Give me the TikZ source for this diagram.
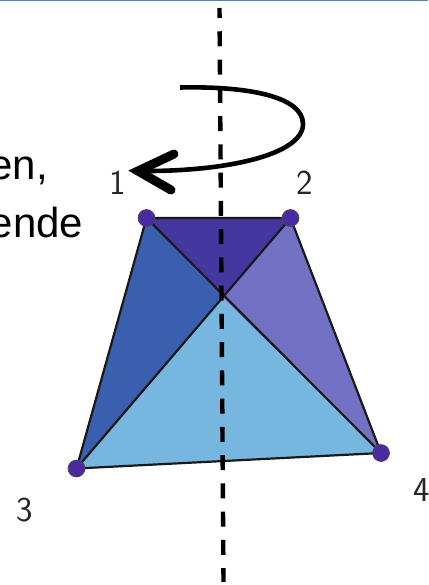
\documentclass[tikz,border=0pt]{standalone}
\usepackage{fontspec}
\setmainfont{Liberation Sans}
\definecolor{topblue}{HTML}{46369F}
\definecolor{leftblue}{HTML}{3A5FAF}
\definecolor{rightblue}{HTML}{7271C4}
\definecolor{lowblue}{HTML}{77B6DF}
\definecolor{dotblue}{HTML}{4A2AA0}
\definecolor{ruleblue}{HTML}{4F86BC}
\tikzset{
  face/.style={draw=black!90,line width=2.2pt,line join=round},
  vertexdot/.style={circle,fill=dotblue,draw=black!70,line width=0.6pt,minimum size=17pt,inner sep=0pt},
  numlabel/.style={inner sep=0pt,text=black!85,font=\fontsize{35}{35}\selectfont\sffamily},
  bodytext/.style={inner sep=0pt,anchor=base east,font=\fontsize{42}{42}\selectfont},
  axisline/.style={line width=4.4pt,dash pattern=on 15pt off 13.26pt,dash phase=5pt},
  turn/.style={line width=4.6pt,line cap=butt},
}
\begin{document}
\begin{tikzpicture}[x=1pt,y=-1pt]
\useasboundingbox (0,0) rectangle (428,585);
\begin{scope}
\clip (0,0) rectangle (428,585);
\fill[ruleblue] (0,0) rectangle (428,1.5);
\node[bodytext] (en) at (48,179) {en,};
\node[bodytext] (ende) at (83.5,237) {ende};
\coordinate (a) at (146.5,218);
\coordinate (b) at (290.5,218);
\coordinate (c) at (76.5,468.5);
\coordinate (d) at (381,453);
\coordinate (m) at (222,297);
\fill[topblue] (a)--(b)--(m)--cycle;
\fill[leftblue] (a)--(m)--(c)--cycle;
\fill[rightblue] (b)--(d)--(m)--cycle;
\fill[lowblue] (c)--(d)--(m)--cycle;
\draw[face] (a)--(b)--(d)--(c)--cycle;
\draw[face] (a)--(d) (b)--(c);
\coordinate (axtop) at (219.5,8);
\coordinate (axbot) at (223.5,582);
\draw[axisline] (axtop)--(axbot);
\node[vertexdot] (v1) at (a) {};
\node[vertexdot] (v2) at (b) {};
\node[vertexdot] (v3) at (c) {};
\node[vertexdot] (v4) at (d) {};
\node[numlabel] (n1) at (118,183) {1};
\node[numlabel] (n2) at (304.5,183) {2};
\node[numlabel] (n3) at (25,510) {3};
\node[numlabel,anchor=west] (n4) at (413,490) {4};
\coordinate (s) at (180,87.5);
\coordinate (tip) at (138,171);
\draw[turn] (s) .. controls (250,86) and (303,97) .. (303,124)
  .. controls (303,155) and (225,172) .. (tip);
\draw[line width=9pt,line cap=round,line join=miter] (174,154) -- (tip) -- (171,190);
\end{scope}
\end{tikzpicture}
\end{document}
